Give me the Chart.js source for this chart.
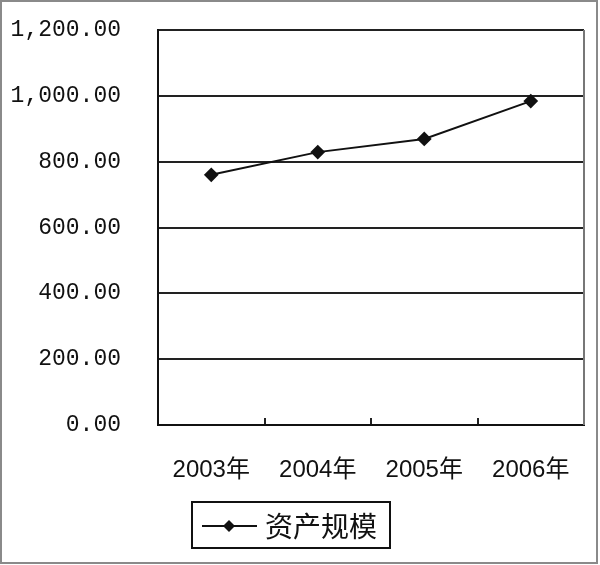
<!DOCTYPE html>
<html>
<head>
<meta charset="utf-8">
<script src="https://cdn.jsdelivr.net/npm/chart.js@4/dist/chart.umd.min.js"></script>
<style>body{margin:0;background:#fff}</style>
</head>
<body>
<canvas id="myChart" width="600" height="565"></canvas>
<script>
'use strict';

const years = ['2003年', '2004年', '2005年', '2006年'];
const assetScale = [760, 829, 869, 984];
const seriesName = '资产规模';
const yTicks = [0, 200, 400, 600, 800, 1000, 1200];

// outer frame, right edge of the plot and the boxed legend
const decor = {
  id: 'decor',
  beforeDraw(chart) {
    const ctx = chart.ctx;
    ctx.save();
    ctx.fillStyle = '#fff';
    ctx.fillRect(0, 0, chart.width, chart.height);
    ctx.strokeStyle = '#8a8a8a';
    ctx.lineWidth = 2;
    ctx.strokeRect(1, 1, 596, 562);
    ctx.restore();
  },
  afterDraw(chart) {
    const ctx = chart.ctx;
    const a = chart.chartArea;
    const ds = chart.data.datasets[0];
    ctx.save();
    ctx.strokeStyle = '#777';
    ctx.lineWidth = 2;
    ctx.beginPath();
    ctx.moveTo(a.right, a.top);
    ctx.lineTo(a.right, a.bottom);
    ctx.stroke();

    // legend
    ctx.strokeStyle = '#111';
    ctx.strokeRect(192, 502, 198, 46);
    ctx.strokeStyle = ds.borderColor;
    ctx.beginPath();
    ctx.moveTo(202, 526);
    ctx.lineTo(257, 526);
    ctx.stroke();
    ctx.fillStyle = ds.pointBackgroundColor;
    ctx.beginPath();
    ctx.moveTo(229, 520);
    ctx.lineTo(235, 526);
    ctx.lineTo(229, 532);
    ctx.lineTo(223, 526);
    ctx.closePath();
    ctx.fill();
    ctx.fillStyle = '#111';
    ctx.font = '28px "Noto Sans CJK SC"';
    ctx.textBaseline = 'middle';
    ctx.fillText(ds.label, 265, 526);
    ctx.restore();
  }
};

const ctx = document.getElementById('myChart');
const myChart = new Chart(ctx, {
  type: 'line',
  data: {
    labels: years,
    datasets: [{
      label: seriesName,
      data: assetScale,
      borderColor: '#111',
      borderWidth: 2,
      pointStyle: 'rectRot',
      pointRadius: 6,
      pointBackgroundColor: '#111',
      pointBorderColor: '#111',
      tension: 0
    }]
  },
  options: {
    responsive: false,
    devicePixelRatio: 1,
    animation: false,
    layout: { padding: { top: 30, right: 16, bottom: 0, left: 0 } },
    plugins: {
      legend: { display: false },
      tooltip: { enabled: false }
    },
    scales: {
      x: {
        offset: true,
        afterFit: s => {
          s.height = 140;
          s.paddingLeft = 0;
          s.paddingRight = 0;
        },
        grid: {
          offset: true,
          drawOnChartArea: false,
          tickLength: -7,
          color: '#222',
          lineWidth: 2
        },
        border: { color: '#111', width: 2 },
        ticks: {
          color: '#111',
          padding: 38,
          font: { family: '"Liberation Sans", "Noto Sans CJK SC"', size: 24 }
        }
      },
      y: {
        min: 0,
        max: 1200,
        afterFit: s => {
          s.width = 158;
          s.paddingTop = 14;
          s.paddingBottom = 14;
        },
        afterBuildTicks: s => { s.ticks = yTicks.map(v => ({ value: v })); },
        grid: { color: '#222', lineWidth: 2, drawTicks: false },
        border: { color: '#111', width: 2 },
        ticks: {
          color: '#111',
          padding: 37,
          font: { family: '"Liberation Mono"', size: 23 },
          callback: v => v.toLocaleString('en-US', { minimumFractionDigits: 2, maximumFractionDigits: 2 })
        }
      }
    }
  },
  plugins: [decor]
});
</script>
</body>
</html>
